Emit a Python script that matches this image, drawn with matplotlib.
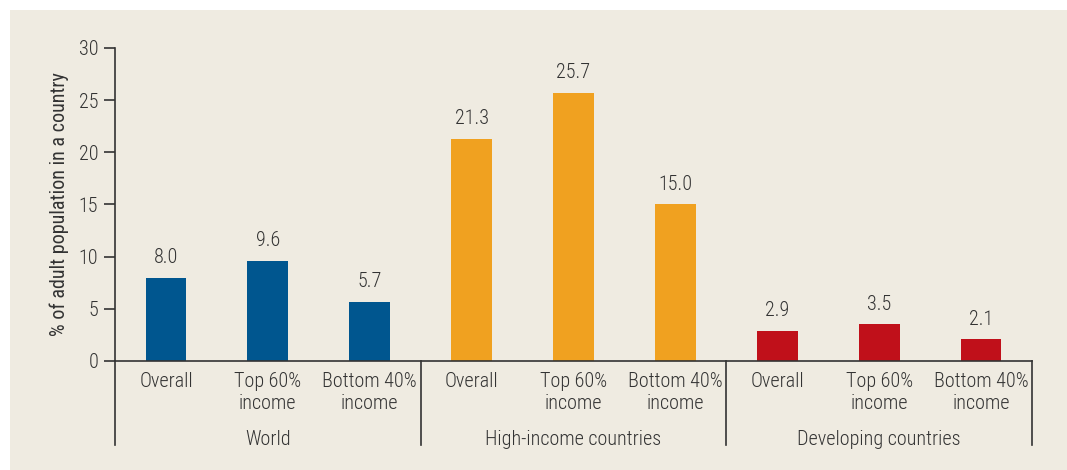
import matplotlib
matplotlib.use('Agg')
import matplotlib.pyplot as plt
from matplotlib.patches import Rectangle
import matplotlib.transforms as mtransforms

plt.rcParams['font.family'] = ['Roboto Condensed', 'DejaVu Sans']
plt.rcParams['font.stretch'] = 'condensed'
plt.rcParams['font.weight'] = 'light'

groups = ['World', 'High-income countries', 'Developing countries']
categories = ['Overall', 'Top 60%\nincome', 'Bottom 40%\nincome']
values = [[8.0, 9.6, 5.7],
          [21.3, 25.7, 15.0],
          [2.9, 3.5, 2.1]]
colors = ['#00568F', '#F0A120', '#C0101A']
yticks = [0, 5, 10, 15, 20, 25, 30]

bg = '#EFEBE1'
txt = '#333333'

fig = plt.figure(figsize=(10.67, 4.7), dpi=100)
fig.patches.append(Rectangle((10/1067, 0), 1 - 10/1067, 1 - 10/470,
                             transform=fig.transFigure, facecolor=bg,
                             edgecolor='none', zorder=-10))

ax = fig.add_axes([115/1067, (470-361)/470, (1032-115)/1067, 313/470])
ax.set_facecolor('none')

for g in range(3):
    for i in range(3):
        x = g*3 + i
        v = values[g][i]
        ax.bar(x, v, width=0.4, color=colors[g], zorder=2)
        ax.text(x, v + 1.0, '%.1f' % v, ha='center', va='bottom',
                fontsize=14.5, color=txt)
        ax.text(x, -1.1, categories[i], ha='center', va='top',
                fontsize=14.5, color=txt, linespacing=1.2)
    ax.text(g*3 + 1, -6.6, groups[g], ha='center', va='top',
            fontsize=14.5, color=txt)

ax.set_xlim(-0.5, 8.5)
ax.set_ylim(0, 30)
ax.set_yticks(yticks)
ax.set_xticks([])
ax.tick_params(axis='y', length=8, width=1.2, color=txt, labelcolor=txt,
               labelsize=14.5, pad=4)
for s in ['top', 'right']:
    ax.spines[s].set_visible(False)
ax.spines['left'].set_color(txt)
ax.spines['bottom'].set_color(txt)
ax.spines['left'].set_linewidth(1.2)
ax.spines['bottom'].set_linewidth(1.2)
ax.spines['bottom'].set_zorder(3)

# group dividers running below the axis
trans = mtransforms.blended_transform_factory(ax.transData, ax.transAxes)
for xd in [-0.5, 2.5, 5.5, 8.5]:
    ax.plot([xd, xd], [0, -84/313], transform=trans, color=txt, lw=1.2,
            clip_on=False)

ax.set_ylabel('% of adult population in a country', fontsize=14.5, color=txt,
              labelpad=7)

fig.savefig('out.png', dpi=100, facecolor='white')
